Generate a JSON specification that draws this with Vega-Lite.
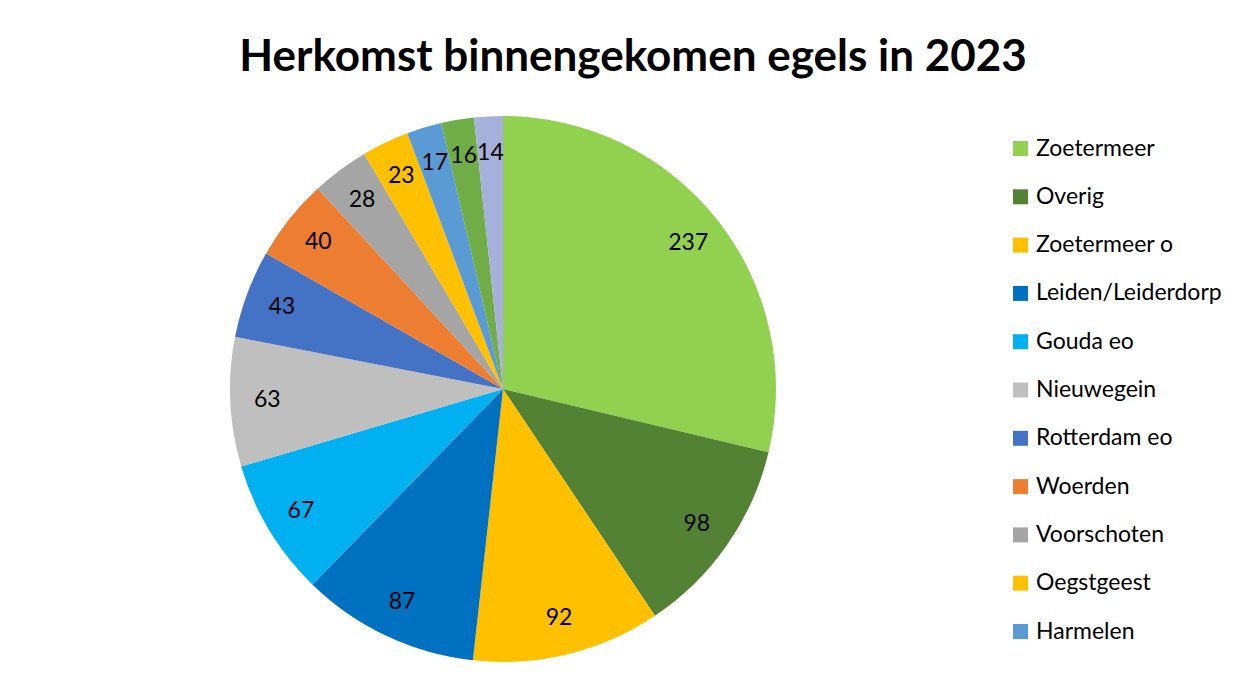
{
  "$schema": "https://vega.github.io/schema/vega-lite/v6.json",
  "width": 1006,
  "height": 598,
  "autosize": {"type": "none"},
  "padding": {"left": 0, "top": 90, "right": 254, "bottom": 0},
  "background": "white",
  "view": {"stroke": null},
  "title": {
    "text": "Herkomst binnengekomen egels in 2023",
    "font": "Lato",
    "fontSize": 44,
    "fontWeight": "bold",
    "color": "black",
    "anchor": "middle",
    "frame": "group",
    "dx": 130,
    "baseline": "alphabetic",
    "offset": -25
  },
  "data": {
    "values": [
      {"regio": "Zoetermeer", "aantal": 237, "volgorde": 1},
      {"regio": "Overig", "aantal": 98, "volgorde": 2},
      {"regio": "Zoetermeer o", "aantal": 92, "volgorde": 3},
      {"regio": "Leiden/Leiderdorp", "aantal": 87, "volgorde": 4},
      {"regio": "Gouda eo", "aantal": 67, "volgorde": 5},
      {"regio": "Nieuwegein", "aantal": 63, "volgorde": 6},
      {"regio": "Rotterdam eo", "aantal": 43, "volgorde": 7},
      {"regio": "Woerden", "aantal": 40, "volgorde": 8},
      {"regio": "Voorschoten", "aantal": 28, "volgorde": 9},
      {"regio": "Oegstgeest", "aantal": 23, "volgorde": 10},
      {"regio": "Harmelen", "aantal": 17, "volgorde": 11},
      {"regio": "Categorie 12", "aantal": 16, "volgorde": 12},
      {"regio": "Categorie 13", "aantal": 14, "volgorde": 13}
    ]
  },
  "encoding": {
    "theta": {"field": "aantal", "type": "quantitative", "stack": true},
    "order": {"field": "volgorde", "type": "quantitative"}
  },
  "layer": [
    {
      "mark": {"type": "arc", "outerRadius": 273},
      "encoding": {
        "color": {
          "field": "regio",
          "type": "nominal",
          "scale": {
            "domain": ["Zoetermeer", "Overig", "Zoetermeer o", "Leiden/Leiderdorp", "Gouda eo", "Nieuwegein", "Rotterdam eo", "Woerden", "Voorschoten", "Oegstgeest", "Harmelen", "Categorie 12", "Categorie 13"],
            "range": ["#92D050", "#548235", "#FFC000", "#0070C0", "#00B0F0", "#BFBFBF", "#4472C4", "#ED7D31", "#A5A5A5", "#FFC000", "#5B9BD5", "#70AD47", "#A5B1DB"]
          },
          "legend": {
            "orient": "none",
            "legendX": 1009,
            "legendY": 47,
            "title": null,
            "values": ["Zoetermeer", "Overig", "Zoetermeer o", "Leiden/Leiderdorp", "Gouda eo", "Nieuwegein", "Rotterdam eo", "Woerden", "Voorschoten", "Oegstgeest", "Harmelen"],
            "symbolType": "square",
            "symbolSize": 225,
            "symbolStrokeWidth": 0,
            "labelFont": "Lato",
            "labelFontSize": 23,
            "labelColor": "black",
            "labelOffset": 4,
            "rowPadding": 24.3,
            "labelLimit": 300
          }
        }
      }
    },
    {
      "mark": {"type": "text", "radius": 236, "font": "Lato", "fontSize": 23, "color": "black"},
      "encoding": {
        "text": {"field": "aantal", "type": "quantitative"},
        "detail": {"field": "regio", "type": "nominal"}
      }
    }
  ]
}
